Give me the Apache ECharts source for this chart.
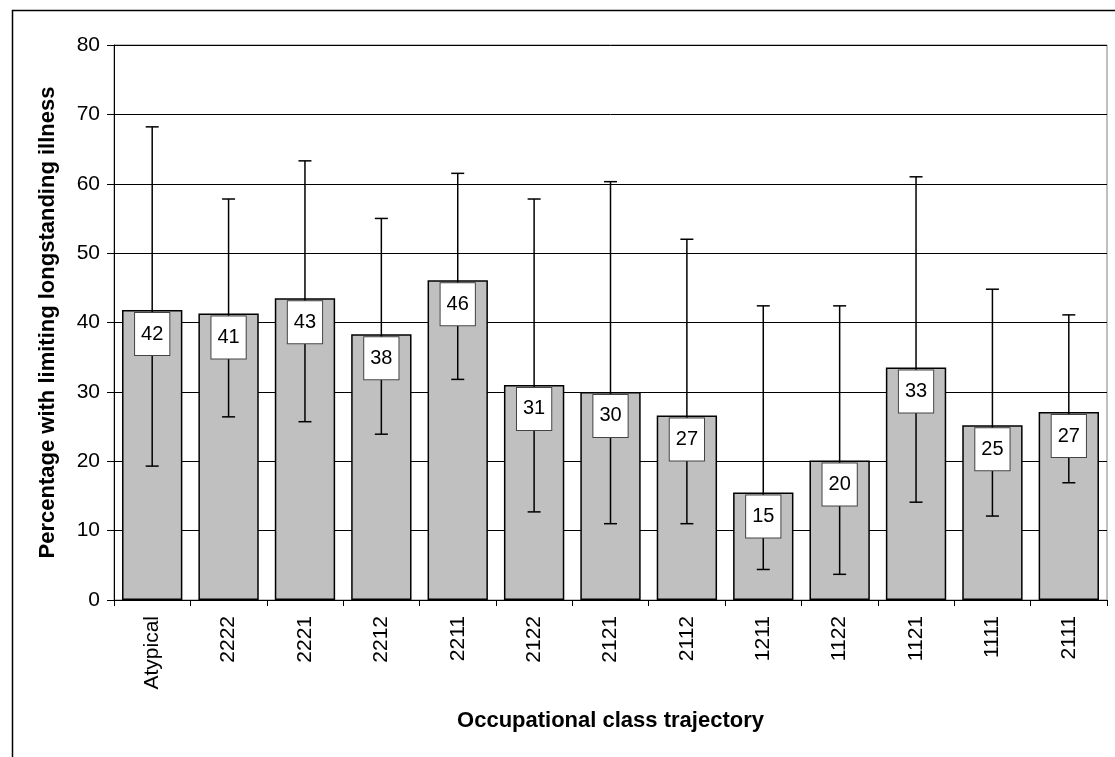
<!DOCTYPE html>
<html>
<head>
<meta charset="utf-8">
<title>Limiting longstanding illness by occupational class trajectory</title>
<script src="https://cdn.jsdelivr.net/npm/echarts@6/dist/echarts.min.js"></script>
<style>
	html, body { margin: 0; padding: 0; background: #fff; }
	#illnessChart { width: 1115px; height: 757px; }
</style>
</head>
<body>
<div id="illnessChart"></div>
<script>
/*** percentage with limiting longstanding illness ***/
var categories = ['Atypical', '2222', '2221', '2212', '2211', '2122', '2121', '2112', '1211', '1122', '1121', '1111', '2111'];
var percentValues = [41.8, 41.3, 43.5, 38.3, 46.1, 31.0, 30.0, 26.6, 15.5, 20.1, 33.5, 25.2, 27.1];
var valueLabels = ['42', '41', '43', '38', '46', '31', '30', '27', '15', '20', '33', '25', '27'];
var lowerCI = [19.3, 26.4, 25.7, 23.9, 31.8, 12.7, 11.0, 11.0, 4.4, 3.7, 14.1, 12.1, 16.9];
var upperCI = [68.2, 57.8, 63.3, 55.0, 61.5, 57.8, 60.3, 52.0, 42.4, 42.4, 61.0, 44.8, 41.1];
var yTicks = { min: 0, max: 80, interval: 10 };

var fontName = '"Liberation Sans", Arial, sans-serif';

var illnessChart = {
	init: function() {
		this.chart = echarts.init(document.getElementById('illnessChart'));
		this.chart.setOption(this.buildOption(), true);
	},
	//误差线 + 数值框
	errorData: function() {
		var rows = [];
		for (var i = 0; i < categories.length; i++) {
			rows.push([i, lowerCI[i], upperCI[i], percentValues[i]]);
		}
		return rows;
	},
	renderError: function(params, api) {
		var idx = api.value(0);
		var lo = api.coord([idx, api.value(1)]);
		var hi = api.coord([idx, api.value(2)]);
		var top = api.coord([idx, api.value(3)]);
		var half = 6.5;
		var lineStyle = { stroke: '#000', lineWidth: 1.5 };
		return {
			type: 'group',
			children: [{
				type: 'line',
				shape: { x1: hi[0], y1: hi[1], x2: lo[0], y2: lo[1] },
				style: lineStyle
			}, {
				type: 'line',
				shape: { x1: hi[0] - half, y1: hi[1], x2: hi[0] + half, y2: hi[1] },
				style: lineStyle
			}, {
				type: 'line',
				shape: { x1: lo[0] - half, y1: lo[1], x2: lo[0] + half, y2: lo[1] },
				style: lineStyle
			}, {
				type: 'text',
				x: top[0],
				y: top[1] + 3,
				style: {
					text: valueLabels[params.dataIndex],
					font: '20px ' + fontName,
					fill: '#000',
					align: 'center',
					verticalAlign: 'top',
					backgroundColor: '#fff',
					borderColor: '#444',
					borderWidth: 1,
					padding: [11, 6, 11, 6]
				}
			}]
		};
	},
	buildOption: function() {
		var self = this;
		return {
			backgroundColor: '#fff',
			animation: false,
			textStyle: { fontFamily: fontName },
			graphic: [{
				type: 'rect',
				left: 10,
				top: 8,
				shape: { width: 1120, height: 760 },
				style: { fill: 'none', stroke: '#000', lineWidth: 1.5 },
				silent: true
			}],
			grid: {
				left: 114,
				right: 8,
				top: 45,
				bottom: 157,
				show: true,
				borderColor: '#808080',
				borderWidth: 1
			},
			xAxis: {
				type: 'category',
				data: categories,
				name: 'Occupational class trajectory',
				nameLocation: 'middle',
				nameGap: 110,
				nameTextStyle: { fontSize: 22, fontWeight: 'bold', color: '#000', fontFamily: fontName },
				axisLine: { show: true, lineStyle: { color: '#000', width: 1 } },
				axisTick: { show: true, length: 6, lineStyle: { color: '#000' } },
				axisLabel: {
					rotate: 90,
					margin: 16,
					fontSize: 21,
					color: '#000',
					fontFamily: fontName
				},
				splitLine: { show: false }
			},
			yAxis: {
				type: 'value',
				min: yTicks.min,
				max: yTicks.max,
				interval: yTicks.interval,
				name: 'Percentage with limiting longstanding illness',
				nameLocation: 'middle',
				nameGap: 55,
				nameTextStyle: { fontSize: 22, fontWeight: 'bold', color: '#000', fontFamily: fontName },
				axisLine: { show: true, lineStyle: { color: '#000', width: 1 } },
				axisTick: { show: true, length: 7, lineStyle: { color: '#000' } },
				axisLabel: { fontSize: 21, color: '#000', margin: 14, fontFamily: fontName },
				splitLine: { show: true, lineStyle: { color: '#000', width: 1 } }
			},
			series: [{
				name: 'percent',
				type: 'bar',
				data: percentValues,
				barCategoryGap: '21%',
				z: 2,
				itemStyle: { color: '#c0c0c0', borderColor: '#000', borderWidth: 1.5 }
			}, {
				name: 'ci',
				type: 'custom',
				z: 3,
				renderItem: function(params, api) {
					return self.renderError(params, api);
				},
				encode: { x: 0, y: [1, 2] },
				data: self.errorData()
			}]
		};
	}
};

illnessChart.init();
</script>
</body>
</html>
